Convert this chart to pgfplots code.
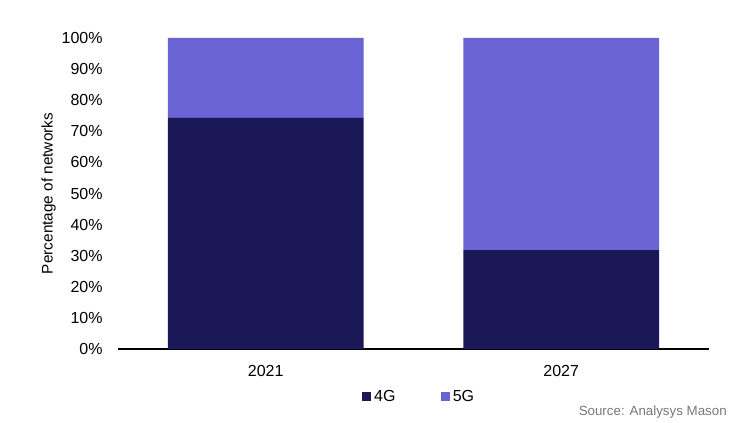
\documentclass[border=0pt]{standalone}
\usepackage{pgfplots}
\pgfplotsset{compat=1.18}
\usepackage{fontspec}
\setmainfont{Liberation Sans}
\definecolor{c4g}{HTML}{1B1858}
\definecolor{c5g}{HTML}{6A63D3}
\definecolor{srcgray}{HTML}{777777}
\begin{document}
\begin{tikzpicture}[x=0.75pt,y=0.75pt]
\path[use as bounding box] (0,0) rectangle (732,422);
\begin{axis}[
  at={(118*0.75pt,73*0.75pt)}, anchor=south west,
  scale only axis, width=443.25pt, height=233.25pt,
  ybar stacked, bar width=0.663,
  xmin=-0.5, xmax=1.5, ymin=0, ymax=100,
  xtick={0,1}, xticklabels={2021,2027},
  ytick={0,10,...,100},
  yticklabel={\pgfmathprintnumber{\tick}\%},
  /pgf/number format/assume math mode=true,
  axis x line*=bottom, axis y line*=left,
  y axis line style={draw=none},
  x axis line style={black, line width=1.1pt, -},
  major tick length=0pt,
  tick label style={font=\fontsize{12}{14}\selectfont},
  yticklabel style={anchor=east, xshift=-8pt},
  xticklabel style={yshift=-9pt},
  ylabel={Percentage of networks},
  ylabel style={font=\fontsize{11.5}{13}\selectfont, yshift=-2.5pt},
  legend style={draw=none, at={(0.5,-0.114)}, anchor=north, legend columns=2,
    xshift=4.5pt,
    font=\fontsize{12}{14}\selectfont,
    /tikz/every even column/.append style={column sep=32pt}},
  legend image code/.code={\fill[#1] (0pt,-3.5pt) rectangle (7pt,3.5pt);},
  clip=false,
]
\addplot[fill=c4g, draw=none] coordinates {(0,74.3) (1,31.8)};
\addplot[fill=c5g, draw=none] coordinates {(0,25.7) (1,68.2)};
\legend{4G,5G}
\end{axis}
\node[anchor=base east, inner sep=0pt, text=srcgray, font=\fontsize{10}{12}\selectfont] at (727,7) {Source: Analysys Mason};
\end{tikzpicture}
\end{document}
